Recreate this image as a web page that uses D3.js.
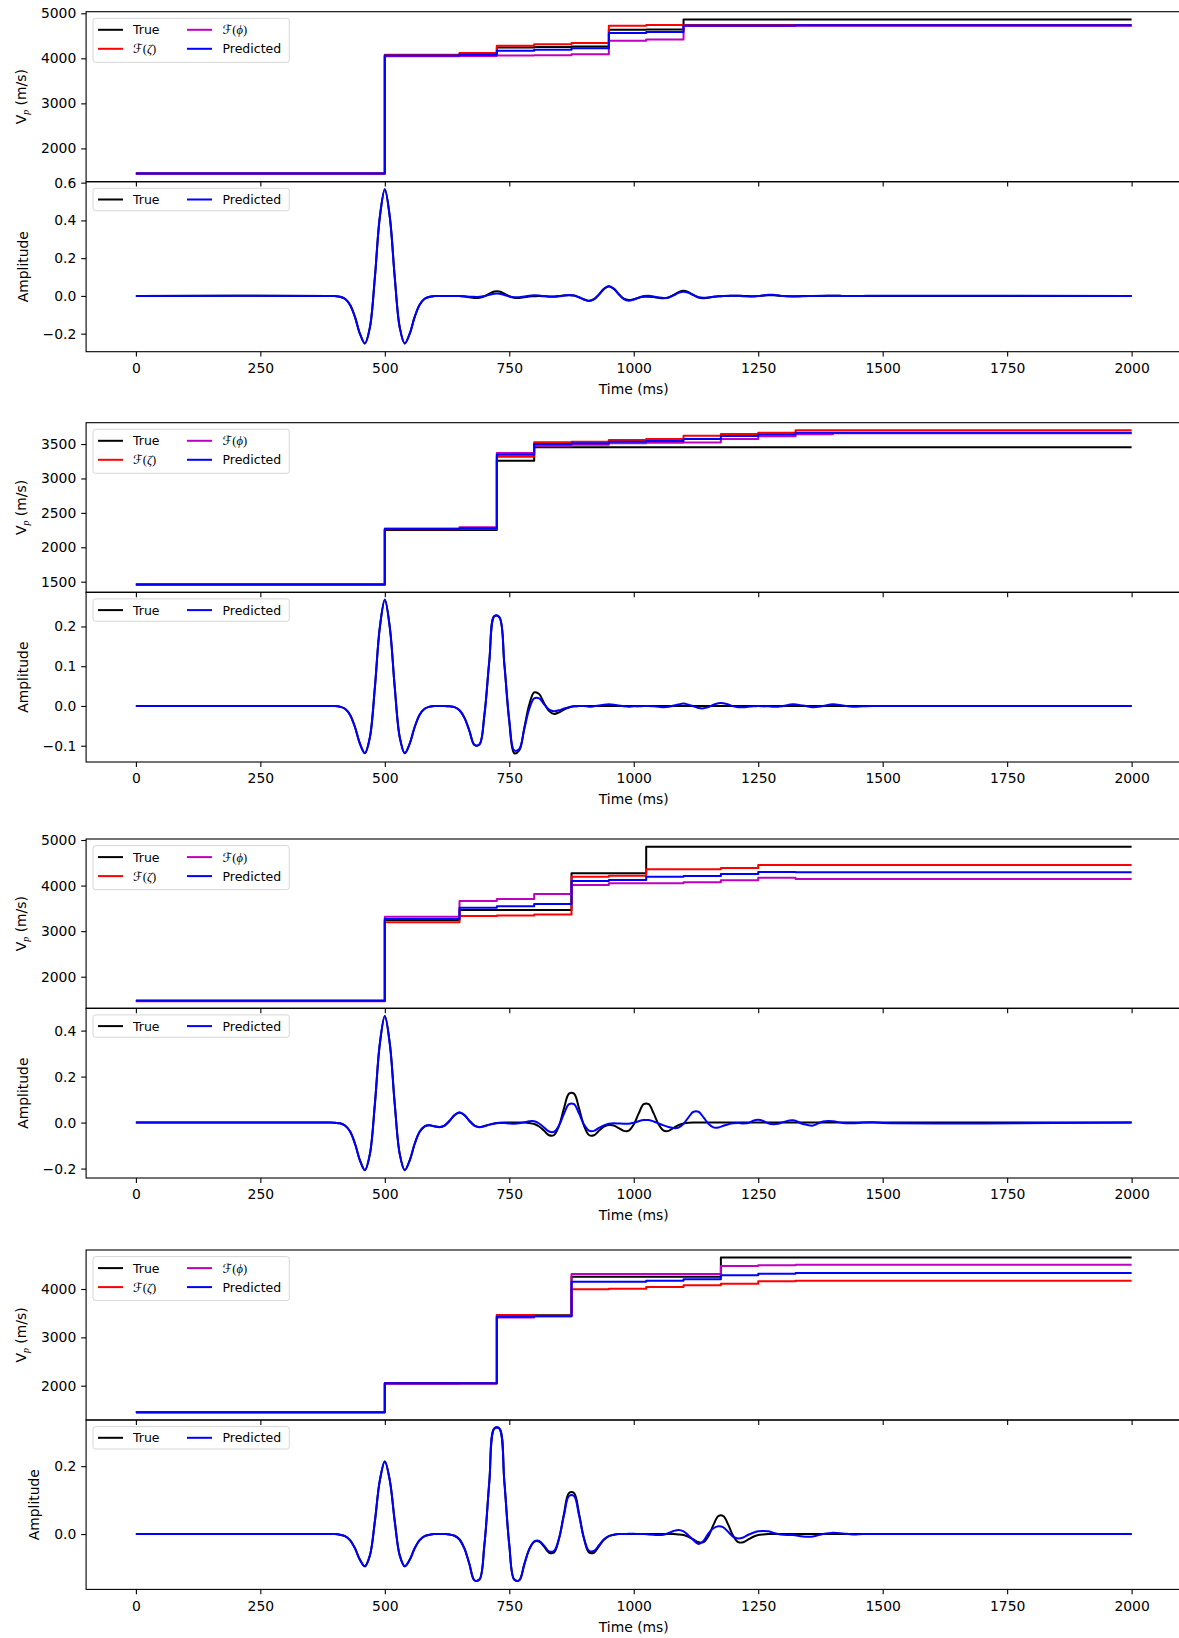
<!DOCTYPE html>
<html>
<head>
<meta charset="utf-8">
<script src="https://cdn.jsdelivr.net/npm/d3@7"></script>
<style>
  body { margin: 0; background: #fff; }
  svg { display: block; background: #fff; }
  text { font-family: "DejaVu Sans", sans-serif; fill: #000; }
</style>
</head>
<body>
<svg id="chart" width="1179" height="1638"></svg>
<script>
// ===== data =====
const xTicks = [0, 250, 500, 750, 1000, 1250, 1500, 1750, 2000]

// layer tops (ms) of the velocity step profiles, the last entry closes the profile
const vpTime = [0, 500, 650, 725, 800, 875, 950, 1025, 1100, 1175, 1250, 1325, 1400, 2000]

// example 1
const vp1True = [1445, 4070, 4090, 4243, 4250, 4265, 4634, 4641, 4860, 4860, 4860, 4860, 4860, 4860]
const vp1Zeta = [1445, 4080, 4119, 4281, 4315, 4340, 4723, 4739, 4740, 4740, 4740, 4740, 4740, 4740]
const vp1Phi  = [1445, 4045, 4050, 4060, 4070, 4088, 4390, 4420, 4715, 4715, 4715, 4725, 4725, 4725]
const vp1Pred = [1445, 4060, 4080, 4170, 4190, 4222, 4560, 4587, 4730, 4730, 4730, 4732, 4732, 4732]
// example 2
const vp2True = [1460, 2250, 2250, 3258, 3455, 3455, 3455, 3455, 3455, 3455, 3455, 3455, 3455, 3455]
const vp2Zeta = [1460, 2262, 2270, 3316, 3525, 3534, 3558, 3573, 3621, 3645, 3665, 3699, 3699, 3699]
const vp2Phi  = [1460, 2272, 2290, 3369, 3476, 3490, 3510, 3519, 3524, 3573, 3612, 3641, 3655, 3655]
const vp2Pred = [1460, 2265, 2275, 3345, 3500, 3510, 3534, 3544, 3573, 3616, 3640, 3665, 3665, 3665]
// example 3
const vp3True = [1470, 3244, 3464, 3464, 3464, 4268, 4268, 4853, 4853, 4853, 4853, 4853, 4853, 4853]
const vp3Zeta = [1460, 3194, 3332, 3346, 3368, 4195, 4217, 4356, 4356, 4385, 4451, 4451, 4451, 4451]
const vp3Phi  = [1470, 3317, 3661, 3705, 3815, 4012, 4049, 4049, 4071, 4115, 4173, 4144, 4144, 4144]
const vp3Pred = [1470, 3266, 3515, 3544, 3596, 4100, 4122, 4195, 4210, 4254, 4298, 4290, 4290, 4290]
// example 4
const vp4True = [1450, 2050, 2050, 3455, 3455, 4255, 4255, 4255, 4255, 4650, 4650, 4650, 4650, 4650]
const vp4Zeta = [1450, 2050, 2050, 3460, 3445, 3993, 4007, 4041, 4076, 4110, 4159, 4172, 4172, 4172]
const vp4Phi  = [1450, 2040, 2045, 3410, 3435, 4310, 4310, 4310, 4310, 4476, 4490, 4503, 4503, 4503]
const vp4Pred = [1450, 2050, 2050, 3425, 3435, 4151, 4151, 4172, 4200, 4283, 4317, 4331, 4331, 4331]

// sample times (ms) of the seismic traces
const waveTime = [
  0, 390,
  400, 410, 420, 430, 440, 450, 460, 470, 480, 490,
  500, 510, 520, 530, 540, 550, 560, 570, 580, 590,
  600, 610, 620, 630, 640, 650, 660, 670, 680, 690,
  700, 710, 720, 730, 740, 750, 760, 770, 780, 790,
  800, 810, 820, 830, 840, 850, 860, 870, 880, 890,
  900, 910, 920, 930, 940, 950, 960, 970, 980, 990,
  1000, 1010, 1020, 1030, 1040, 1050, 1060, 1070, 1080, 1090,
  1100, 1110, 1120, 1130, 1140, 1150, 1160, 1170, 1180, 1190,
  1200, 1210, 1220, 1230, 1240, 1250, 1260, 1270, 1280, 1290,
  1300,
  1320, 1340, 1360, 1380, 1400, 1420, 1440, 1460, 1480, 1500,
  2000
]

const w1True = [
  0, 0,
  -0.001, -0.004, -0.015, -0.047, -0.111, -0.200, -0.252, -0.167, 0.097, 0.418,
  0.565, 0.418, 0.097, -0.167, -0.252, -0.200, -0.111, -0.047, -0.015, -0.004,
  -0.001, 0, 0, 0, 0, -0.001, -0.003, -0.007, -0.011, -0.010,
  -0.002, 0.012, 0.023, 0.023, 0.012, -0.002, -0.010, -0.011, -0.007, -0.003,
  -0.002, -0.001, -0.002, -0.003, -0.003, -0.001, 0.002, 0.004, 0.002, -0.007,
  -0.018, -0.025, -0.017, 0.007, 0.036, 0.050, 0.037, 0.009, -0.015, -0.022,
  -0.018, -0.010, -0.005, -0.004, -0.006, -0.010, -0.012, -0.008, 0.005, 0.020,
  0.027, 0.020, 0.005, -0.008, -0.012, -0.010, -0.005, -0.002, -0.001, 0,
  0.001, 0.001, 0, -0.001, -0.002, -0.001, 0.001, 0.003, 0.003, 0.001,
  -0.001,
  -0.002, -0.001, 0, 0, 0.001, 0, 0, 0, 0, 0,
  0
]
const w1Pred = [
  0, 0,
  -0.001, -0.004, -0.015, -0.047, -0.111, -0.200, -0.252, -0.167, 0.097, 0.418,
  0.565, 0.418, 0.097, -0.167, -0.252, -0.200, -0.111, -0.047, -0.015, -0.004,
  -0.001, 0, 0, 0, 0, -0.001, -0.002, -0.004, -0.005, -0.005,
  -0.001, 0.006, 0.012, 0.012, 0.005, -0.003, -0.007, -0.007, -0.003, 0.001,
  0.003, 0.002, -0.001, -0.004, -0.005, -0.002, 0.002, 0.005, 0.002, -0.007,
  -0.020, -0.027, -0.019, 0.007, 0.038, 0.053, 0.039, 0.009, -0.017, -0.025,
  -0.019, -0.009, -0.001, 0.001, -0.003, -0.008, -0.011, -0.008, 0.003, 0.016,
  0.022, 0.016, 0.004, -0.007, -0.010, -0.008, -0.004, -0.002, 0, 0.001,
  0.001, 0.001, -0.002, -0.003, -0.003, -0.001, 0.003, 0.006, 0.006, 0.003,
  -0.001,
  -0.003, -0.002, 0, 0.001, 0.001, 0, -0.001, 0, 0.001, 0.001,
  0
]
const w2True = [
  0, 0,
  0, -0.002, -0.007, -0.022, -0.053, -0.095, -0.119, -0.079, 0.046, 0.198,
  0.267, 0.198, 0.046, -0.079, -0.119, -0.095, -0.053, -0.022, -0.007, -0.002,
  0, 0, 0, -0.001, -0.003, -0.011, -0.030, -0.063, -0.098, -0.097,
  -0.023, 0.115, 0.226, 0.223, 0.105, -0.040, -0.119, -0.112, -0.056, 0.003,
  0.034, 0.030, 0.007, -0.013, -0.020, -0.016, -0.009, -0.004, -0.001, 0,
  0, 0, 0, 0, 0, 0, 0, 0, 0, 0,
  0, 0, 0, 0, 0, 0, 0, 0, 0, 0,
  0, 0, 0, 0, 0, 0, 0, 0, 0, 0,
  0, 0, 0, 0, 0, 0, 0, 0, 0, 0,
  0,
  0, 0, 0, 0, 0, 0, 0, 0, 0, 0,
  0
]
const w2Pred = [
  0, 0,
  0, -0.002, -0.007, -0.022, -0.053, -0.095, -0.119, -0.079, 0.046, 0.198,
  0.267, 0.198, 0.046, -0.079, -0.119, -0.095, -0.053, -0.022, -0.007, -0.002,
  0, 0, 0, -0.001, -0.003, -0.011, -0.030, -0.063, -0.098, -0.097,
  -0.023, 0.115, 0.226, 0.224, 0.108, -0.035, -0.112, -0.108, -0.059, -0.008,
  0.019, 0.019, 0.004, -0.009, -0.013, -0.011, -0.006, -0.003, -0.001, 0,
  0, -0.002, -0.001, 0.001, 0.003, 0.004, 0.003, 0.001, -0.001, -0.002,
  -0.001, -0.001, 0, 0, -0.001, -0.002, -0.003, -0.002, 0.001, 0.004,
  0.006, 0.003, -0.001, -0.005, -0.006, -0.003, 0.003, 0.007, 0.007, 0.004,
  -0.001, -0.003, -0.003, -0.002, -0.001, 0, -0.001, -0.001, -0.002, -0.002,
  0,
  0.004, 0.001, -0.003, 0, 0.004, 0.001, -0.002, -0.001, 0, 0,
  0
]
const w3True = [
  0, 0,
  -0.001, -0.003, -0.013, -0.038, -0.091, -0.164, -0.207, -0.137, 0.079, 0.343,
  0.463, 0.343, 0.079, -0.137, -0.207, -0.164, -0.092, -0.040, -0.016, -0.012,
  -0.016, -0.019, -0.013, 0.007, 0.032, 0.043, 0.032, 0.007, -0.013, -0.019,
  -0.015, -0.009, -0.004, -0.001, 0, 0, 0, 0, 0, -0.002,
  -0.006, -0.017, -0.036, -0.055, -0.054, -0.013, 0.063, 0.126, 0.126, 0.063,
  -0.013, -0.054, -0.055, -0.036, -0.018, -0.011, -0.013, -0.024, -0.036, -0.035,
  -0.008, 0.040, 0.080, 0.080, 0.040, -0.008, -0.035, -0.036, -0.023, -0.011,
  -0.004, -0.001, 0, 0, 0, 0, 0, 0, 0, 0,
  0, 0, 0, 0, 0, 0, 0, 0, 0, 0,
  0,
  0, 0, 0, 0, 0, 0, 0, 0, 0, 0,
  0
]
const w3Pred = [
  0, 0,
  -0.001, -0.003, -0.013, -0.038, -0.091, -0.164, -0.207, -0.137, 0.079, 0.343,
  0.463, 0.343, 0.079, -0.137, -0.207, -0.164, -0.092, -0.040, -0.016, -0.012,
  -0.017, -0.020, -0.013, 0.008, 0.033, 0.045, 0.033, 0.008, -0.013, -0.020,
  -0.016, -0.009, -0.004, -0.002, -0.002, -0.004, -0.005, -0.003, 0.001, 0.006,
  0.006, -0.004, -0.022, -0.039, -0.040, -0.012, 0.039, 0.080, 0.080, 0.040,
  -0.008, -0.035, -0.036, -0.023, -0.012, -0.005, -0.003, -0.004, -0.005, -0.005,
  -0.001, 0.006, 0.011, 0.011, 0.005, -0.004, -0.012, -0.019, -0.024, -0.022,
  -0.005, 0.023, 0.047, 0.047, 0.023, -0.005, -0.021, -0.021, -0.014, -0.007,
  -0.003, -0.002, -0.004, -0.002, 0.008, 0.012, 0.007, -0.003, -0.007, -0.005,
  0.002,
  0.010, -0.006, -0.013, 0.005, 0.006, -0.002, -0.003, 0, 0.001, -0.002,
  0
]
const w4True = [
  0, 0,
  0, -0.002, -0.006, -0.018, -0.042, -0.076, -0.095, -0.063, 0.037, 0.158,
  0.214, 0.158, 0.037, -0.063, -0.095, -0.076, -0.042, -0.018, -0.006, -0.002,
  0, 0, 0, -0.001, -0.005, -0.016, -0.043, -0.089, -0.136, -0.134,
  -0.032, 0.156, 0.311, 0.311, 0.156, -0.032, -0.134, -0.136, -0.090, -0.045,
  -0.022, -0.022, -0.037, -0.055, -0.054, -0.013, 0.061, 0.121, 0.121, 0.061,
  -0.013, -0.054, -0.055, -0.036, -0.017, -0.006, -0.002, 0, 0, 0,
  0, 0, 0, 0, 0, 0, 0, 0, 0, -0.001,
  -0.003, -0.008, -0.016, -0.024, -0.024, -0.006, 0.027, 0.053, 0.053, 0.027,
  -0.006, -0.024, -0.024, -0.016, -0.008, -0.003, -0.001, 0, 0, 0,
  0,
  0, 0, 0, 0, 0, 0, 0, 0, 0, 0,
  0
]
const w4Pred = [
  0, 0,
  0, -0.002, -0.006, -0.018, -0.042, -0.076, -0.095, -0.063, 0.037, 0.158,
  0.214, 0.158, 0.037, -0.063, -0.095, -0.076, -0.042, -0.018, -0.006, -0.002,
  0, 0, 0, -0.001, -0.005, -0.016, -0.043, -0.089, -0.136, -0.134,
  -0.032, 0.156, 0.311, 0.311, 0.156, -0.032, -0.134, -0.136, -0.090, -0.045,
  -0.022, -0.020, -0.034, -0.051, -0.049, -0.012, 0.056, 0.112, 0.112, 0.056,
  -0.012, -0.049, -0.050, -0.033, -0.016, -0.006, -0.002, 0, 0, 0.001,
  0.001, 0, 0, -0.001, -0.002, -0.003, -0.002, 0.003, 0.009, 0.012,
  0.008, -0.004, -0.018, -0.029, -0.020, 0.002, 0.017, 0.023, 0.020, 0.006,
  -0.008, -0.013, -0.010, -0.002, 0.004, 0.008, 0.009, 0.008, 0.004, 0,
  -0.002,
  -0.003, -0.007, -0.007, 0, 0.004, 0.002, -0.001, 0, 0, 0,
  0
]

// y tick labels of each panel
const vpTicks = [
  [2000, 3000, 4000, 5000],
  [1500, 2000, 2500, 3000, 3500],
  [2000, 3000, 4000, 5000],
  [2000, 3000, 4000]
]
const ampTicks = [
  [-0.2, 0.0, 0.2, 0.4, 0.6],
  [-0.1, 0.0, 0.1, 0.2],
  [-0.2, 0.0, 0.2, 0.4],
  [0.0, 0.2]
]

const vpSets = [
  [vp1True, vp1Zeta, vp1Phi, vp1Pred],
  [vp2True, vp2Zeta, vp2Phi, vp2Pred],
  [vp3True, vp3Zeta, vp3Phi, vp3Pred],
  [vp4True, vp4Zeta, vp4Phi, vp4Pred]
]
const waveSets = [
  [w1True, w1Pred],
  [w2True, w2Pred],
  [w3True, w3Pred],
  [w4True, w4Pred]
]

// ===== layout (px) =====
const layout = [
  { vpTop: 11.7, ampTop: 181.7, ampBottom: 351.7, vpDomain: [1261, 5035], ampDomain: [-0.2955, 0.605] },
  { vpTop: 422.7, ampTop: 592.3, ampBottom: 762, vpDomain: [1346, 3810], ampDomain: [-0.141, 0.286] },
  { vpTop: 839, ampTop: 1008.3, ampBottom: 1178, vpDomain: [1307, 5022], ampDomain: [-0.241, 0.497] },
  { vpTop: 1250, ampTop: 1420, ampBottom: 1589.4, vpDomain: [1290, 4807], ampDomain: [-0.163, 0.336] }
]

const axLeft = 86.1
const axRight = 1181.4
const tickLen = 4.9
const tickPad = 4.9
const tickFont = 13.9
const legendFont = 12.5
const lineW = 2.0
const colors = ['#000000', '#ff0000', '#bf00bf', '#0000ff']
const waveColors = ['#000000', '#0000ff']

const svg = d3.select('#chart')
svg.append('rect').attr('width', 1179).attr('height', 1638).attr('fill', '#fff')

const x = d3.scaleLinear().domain([-100, 2100]).range([axLeft, axRight])

function styleAxis(g) {
    g.select('.domain').remove()
    g.selectAll('.tick line').attr('stroke', '#000').attr('stroke-width', 1.1)
    g.selectAll('.tick text')
        .attr('fill', '#000')
        .style('font-family', '"DejaVu Sans", sans-serif')
        .style('font-size', tickFont + 'px')
}

function drawPanel(top, bottom, domain, ticks, fmt, showXLabels) {
    const y = d3.scaleLinear().domain(domain).range([bottom, top])
    const g = svg.append('g')
    const lines = g.append('g')
    const yAxis = g.append('g')
        .attr('transform', `translate(${axLeft},0)`)
        .call(d3.axisLeft(y).tickValues(ticks).tickFormat(fmt).tickSize(tickLen).tickPadding(tickPad))
    styleAxis(yAxis)
    const xAxis = g.append('g')
        .attr('transform', `translate(0,${bottom})`)
        .call(d3.axisBottom(x).tickValues(xTicks).tickSize(tickLen).tickPadding(tickPad + 1.6)
            .tickFormat(showXLabels ? d3.format('d') : ''))
    styleAxis(xAxis)
    g.append('rect')
        .attr('x', axLeft).attr('y', top)
        .attr('width', axRight - axLeft).attr('height', bottom - top)
        .attr('fill', 'none').attr('stroke', '#000').attr('stroke-width', 1.1)
    return { g, lines, y, yAxis }
}

function placeYLabel(panel, top, bottom, build) {
    const box = panel.yAxis.node().getBBox()
    const cx = axLeft + box.x - 11.5 - 8.2
    const cy = (top + bottom) / 2
    const t = panel.g.append('text')
        .attr('transform', `translate(${cx},${cy}) rotate(-90)`)
        .attr('text-anchor', 'middle')
        .attr('dy', '0.35em')
        .style('font-size', tickFont + 'px')
    build(t)
}

function mathLabel(t, sym) {
    t.append('tspan').style('font-family', '"DejaVu Sans", sans-serif').text('\u2131')
    t.append('tspan').style('font-family', '"Liberation Serif", serif').text('(')
    t.append('tspan').style('font-family', '"Liberation Serif", serif').style('font-style', 'italic').text(sym)
    t.append('tspan').style('font-family', '"Liberation Serif", serif').text(')')
}

function drawLegend(g, top, entries) {
    // entries in column-major order, two columns
    const rows = Math.ceil(entries.length / 2)
    const bx = axLeft + 6.9
    const by = top + 6.6
    const bh = rows === 2 ? 44 : 22.4
    const lg = g.append('g')
    lg.append('rect')
        .attr('x', bx).attr('y', by).attr('width', 196.3).attr('height', bh)
        .attr('rx', 2.5).attr('ry', 2.5)
        .attr('fill', '#fff').attr('fill-opacity', 0.8)
        .attr('stroke', '#cccccc').attr('stroke-opacity', 0.8).attr('stroke-width', 1)
    const colX = [{ h0: 5, h1: 30, t: 40 }, { h0: 94, h1: 119, t: 129.5 }]
    entries.forEach((e, i) => {
        const col = Math.floor(i / rows)
        const row = i % rows
        const cy = rows === 2 ? by + 11.5 + row * 19 : by + bh / 2
        const c = colX[col]
        lg.append('line')
            .attr('x1', bx + c.h0).attr('x2', bx + c.h1)
            .attr('y1', cy).attr('y2', cy)
            .attr('stroke', e.color).attr('stroke-width', lineW)
        const t = lg.append('text')
            .attr('x', bx + c.t).attr('y', cy).attr('dy', '0.36em')
            .style('font-size', legendFont + 'px')
        if (e.sym) mathLabel(t, e.sym)
        else t.text(e.label)
    })
}

const stepLine = y => d3.line()
    .x(d => x(d[0]))
    .y(d => y(d[1]))
    .curve(d3.curveStepAfter)

const waveLine = y => d3.line()
    .x(d => x(d[0]))
    .y(d => y(d[1]))
    .curve(d3.curveCatmullRom.alpha(0.5))

const fmtInt = d3.format('d')
const fmtAmp = d3.format('.1f')

layout.forEach((L, k) => {
    // velocity panel
    const vp = drawPanel(L.vpTop, L.ampTop, L.vpDomain, vpTicks[k], fmtInt, false)
    vpSets[k].forEach((series, j) => {
        vp.lines.append('path')
            .datum(d3.zip(vpTime, series))
            .attr('d', stepLine(vp.y))
            .attr('fill', 'none')
            .attr('stroke', colors[j])
            .attr('stroke-width', lineW)
            .attr('stroke-linejoin', 'round')
    })
    placeYLabel(vp, L.vpTop, L.ampTop, t => {
        t.append('tspan').text('V')
        t.append('tspan')
            .style('font-family', '"Liberation Serif", serif')
            .style('font-style', 'italic')
            .style('font-size', '10px')
            .attr('dy', 3).text('p')
        t.append('tspan').attr('dy', -3).text(' (m/s)')
    })
    drawLegend(vp.g, L.vpTop, [
        { label: 'True', color: colors[0] },
        { sym: '\u03b6', color: colors[1] },
        { sym: '\u03d5', color: colors[2] },
        { label: 'Predicted', color: colors[3] }
    ])

    // trace panel
    const amp = drawPanel(L.ampTop, L.ampBottom, L.ampDomain, ampTicks[k], fmtAmp, true)
    waveSets[k].forEach((series, j) => {
        amp.lines.append('path')
            .datum(d3.zip(waveTime, series))
            .attr('d', waveLine(amp.y))
            .attr('fill', 'none')
            .attr('stroke', waveColors[j])
            .attr('stroke-width', lineW)
            .attr('stroke-linejoin', 'round')
    })
    placeYLabel(amp, L.ampTop, L.ampBottom, t => t.text('Amplitude'))
    drawLegend(amp.g, L.ampTop, [
        { label: 'True', color: waveColors[0] },
        { label: 'Predicted', color: waveColors[1] }
    ])

    amp.g.append('text')
        .attr('x', (axLeft + axRight) / 2)
        .attr('y', L.ampBottom + 37.5)
        .attr('dy', '0.35em')
        .attr('text-anchor', 'middle')
        .style('font-size', tickFont + 'px')
        .text('Time (ms)')
})
</script>
</body>
</html>
